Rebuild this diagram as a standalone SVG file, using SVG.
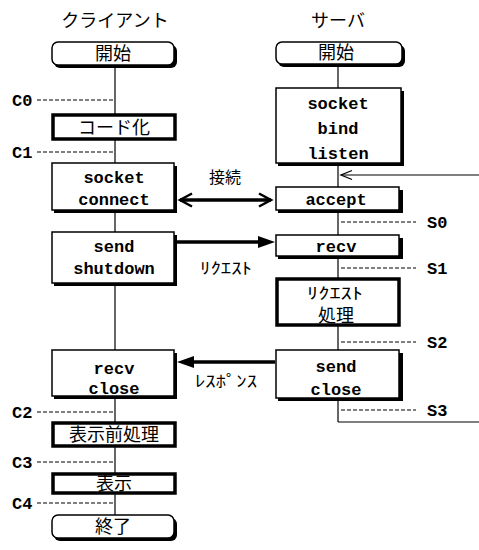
<svg xmlns="http://www.w3.org/2000/svg" width="479" height="550" viewBox="0 0 479 550">
<style>
.t{font-family:"Noto Sans CJK JP","Noto Sans",sans-serif;font-size:18px;text-anchor:middle;fill:#000}
.m{font-family:"Liberation Mono","DejaVu Sans Mono",monospace;font-size:17px;font-weight:bold;text-anchor:middle;fill:#000}
.lb{font-family:"Liberation Mono","DejaVu Sans Mono",monospace;font-size:17px;font-weight:bold;fill:#000}
.k{font-family:"Noto Sans CJK JP",sans-serif;font-size:16px;text-anchor:middle;fill:#000}
.sh{fill:#000}
.bx{fill:#fff;stroke:#000;stroke-width:1.5}
.hb{fill:#fff;stroke:#000;stroke-width:3.5}
.ll{stroke:#000;stroke-width:1.2;fill:none}
.dl{stroke:#000;stroke-width:1.2;stroke-dasharray:4 2;fill:none}
.th{stroke:#000;stroke-width:3.5;fill:none}
.ch{stroke:#000;stroke-width:2.5;fill:none;stroke-linejoin:miter}
</style>

<text class="t" x="115" y="27">クライアント</text>
<text class="t" x="338" y="27">サーバ</text>

<g id="connectors">
<line class="ll" x1="115" y1="66" x2="115" y2="515"/>
<line class="ll" x1="338" y1="66" x2="338" y2="422"/>
<polyline class="ll" points="338,422 479,422"/>
<line class="ll" x1="479" y1="175" x2="341" y2="175"/>
<path d="M352,170.5 L341,175 L352,179.5" fill="none" stroke="#000" stroke-width="1.3"/>
<line class="dl" x1="37" y1="100" x2="114" y2="100"/>
<line class="dl" x1="37" y1="152" x2="114" y2="152"/>
<line class="dl" x1="37" y1="412" x2="114" y2="412"/>
<line class="dl" x1="37" y1="462" x2="114" y2="462"/>
<line class="dl" x1="37" y1="503" x2="114" y2="503"/>
<line class="dl" x1="341" y1="222" x2="416" y2="222"/>
<line class="dl" x1="341" y1="268" x2="416" y2="268"/>
<line class="dl" x1="341" y1="342" x2="416" y2="342"/>
<line class="dl" x1="341" y1="410" x2="416" y2="410"/>
<line class="th" x1="180" y1="200" x2="271" y2="200"/>
<path class="ch" d="M192,193.5 L180,200 L192,206.5"/>
<path class="ch" d="M259,193.5 L271,200 L259,206.5"/>
<line class="th" x1="177" y1="242" x2="262" y2="242"/>
<path d="M258,236 L275,242 L258,248 Z" fill="#000"/>
<line class="th" x1="275" y1="362" x2="190" y2="362"/>
<path d="M194,356 L177,362 L194,368 Z" fill="#000"/>
<text class="t" x="225" y="183" style="font-size:16px">接続</text>
<text class="k" x="226" y="274" textLength="52" lengthAdjust="spacingAndGlyphs">ﾘｸｴｽﾄ</text>
<text class="k" x="226" y="387" textLength="62" lengthAdjust="spacingAndGlyphs">ﾚｽﾎﾟﾝｽ</text>
<text class="lb" x="12" y="106">C0</text>
<text class="lb" x="12" y="158">C1</text>
<text class="lb" x="12" y="418">C2</text>
<text class="lb" x="12" y="468">C3</text>
<text class="lb" x="12" y="509">C4</text>
<text class="lb" x="427" y="228">S0</text>
<text class="lb" x="427" y="274">S1</text>
<text class="lb" x="427" y="348">S2</text>
<text class="lb" x="427" y="416">S3</text>
</g>

<g id="c-start">
<rect class="sh" x="54" y="45" width="123" height="23" rx="6"/>
<rect class="bx" x="52" y="42" width="122" height="23" rx="6"/>
<text class="t" x="113" y="60">開始</text>
</g>
<g id="c-encode">
<rect class="hb" x="53" y="115" width="122" height="24"/>
<text class="t" x="114" y="134">コード化</text>
</g>
<g id="c-connect">
<rect class="sh" x="54" y="166" width="123" height="47"/>
<rect class="bx" x="52" y="163" width="122" height="47"/>
<text class="m" x="114" y="183">socket</text>
<text class="m" x="114" y="205">connect</text>
</g>
<g id="c-send">
<rect class="sh" x="54" y="235" width="123" height="51"/>
<rect class="bx" x="52" y="232" width="122" height="51"/>
<text class="m" x="114" y="252">send</text>
<text class="m" x="114" y="274">shutdown</text>
</g>
<g id="c-recv">
<rect class="sh" x="54" y="353" width="123" height="46"/>
<rect class="bx" x="52" y="350" width="122" height="46"/>
<text class="m" x="114" y="374">recv</text>
<text class="m" x="114" y="394">close</text>
</g>
<g id="c-pre">
<rect class="hb" x="53" y="423" width="122" height="23"/>
<text class="t" x="114" y="441">表示前処理</text>
</g>
<g id="c-disp">
<rect class="hb" x="53" y="474" width="122" height="19"/>
<text class="t" x="114" y="490">表示</text>
</g>
<g id="c-end">
<rect class="sh" x="54" y="518" width="123" height="23" rx="6"/>
<rect class="bx" x="52" y="515" width="122" height="23" rx="6"/>
<text class="t" x="113" y="533">終了</text>
</g>

<g id="s-start">
<rect class="sh" x="278" y="45" width="127" height="22" rx="6"/>
<rect class="bx" x="276" y="42" width="126" height="22" rx="6"/>
<text class="t" x="336" y="59">開始</text>
</g>
<g id="s-listen">
<rect class="sh" x="278" y="91" width="126" height="75"/>
<rect class="bx" x="276" y="88" width="125" height="75"/>
<text class="m" x="338" y="109">socket</text>
<text class="m" x="338" y="134">bind</text>
<text class="m" x="338" y="159">listen</text>
</g>
<g id="s-accept">
<rect class="sh" x="278" y="190" width="125" height="23"/>
<rect class="bx" x="276" y="187" width="123" height="23"/>
<text class="m" x="336" y="205">accept</text>
</g>
<g id="s-recv">
<rect class="sh" x="278" y="238" width="125" height="21"/>
<rect class="bx" x="276" y="235" width="123" height="21"/>
<text class="m" x="336" y="252">recv</text>
</g>
<g id="s-proc">
<rect class="hb" x="277" y="279" width="122" height="46"/>
<text class="k" x="335" y="299" textLength="56" lengthAdjust="spacingAndGlyphs">ﾘｸｴｽﾄ</text>
<text class="t" x="336" y="322">処理</text>
</g>
<g id="s-send">
<rect class="sh" x="278" y="353" width="125" height="48"/>
<rect class="bx" x="276" y="350" width="123" height="48"/>
<text class="m" x="336" y="372">send</text>
<text class="m" x="336" y="395">close</text>
</g>
</svg>
